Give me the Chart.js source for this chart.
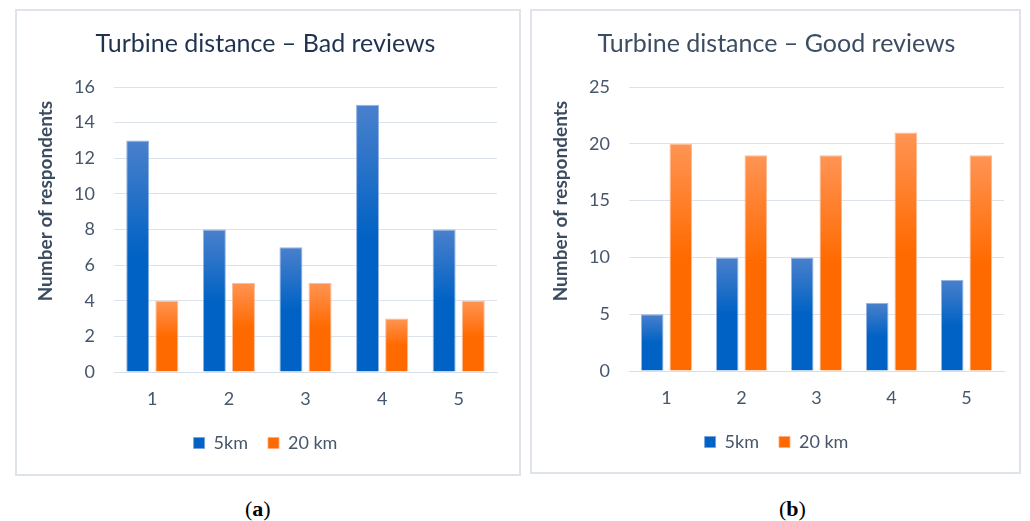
<!DOCTYPE html>
<html>
<head>
<meta charset="utf-8">
<script src="https://cdn.jsdelivr.net/npm/chart.js@4.4.1/dist/chart.umd.min.js"></script>
<style>
  body { margin: 0; background: #fff; width: 1030px; height: 521px; position: relative; overflow: hidden; }
  .panel { position: absolute; border: 2px solid #dfe4ea; box-sizing: border-box; }
  .panel canvas { position: absolute; left: 0; top: 0; }
  .cap { position: absolute; font-family: "Liberation Serif", serif; font-size: 22px; color: #000; }
</style>
</head>
<body>
<div class="panel" style="left:15px;top:9px;width:506px;height:467px;"><canvas id="badChart" width="502" height="463"></canvas></div>
<div class="panel" style="left:530px;top:9px;width:491px;height:465px;"><canvas id="goodChart" width="487" height="461"></canvas></div>
<div class="cap" style="left:245px;top:496px;">(<b>a</b>)</div>
<div class="cap" style="left:779px;top:496px;">(<b>b</b>)</div>
<script>
var categories = ['1', '2', '3', '4', '5'];
var seriesNames = ['5km', '20 km'];
var bad5km = [13, 8, 7, 15, 8];
var bad20km = [4, 5, 5, 3, 4];
var good5km = [5, 10, 10, 6, 8];
var good20km = [20, 19, 19, 21, 19];

var fontName = 'Lato';
var tickColor = '#46566b';

// per-bar vertical gradient, light at the top
function barFill(top, bottom) {
    return function (ctx) {
        var chart = ctx.chart;
        var y = chart.scales && chart.scales.y;
        if (!y || ctx.raw === undefined) return bottom;
        var y0 = y.getPixelForValue(ctx.raw);
        var y1 = y.getPixelForValue(0);
        if (!isFinite(y0) || !isFinite(y1) || y0 === y1) return bottom;
        var g = chart.ctx.createLinearGradient(0, y0, 0, y1);
        g.addColorStop(0, top);
        g.addColorStop(0.5, bottom);
        g.addColorStop(1, bottom);
        return g;
    };
}

function drawchart(id, title, titleColor, d1, d2, max, step, padRight, padBottom) {
    var ctx = document.getElementById(id).getContext('2d');
    return new Chart(ctx, {
        type: 'bar',
        data: {
            labels: categories,
            datasets: [{
                label: seriesNames[0],
                data: d1,
                backgroundColor: barFill('#4a80cc', '#0062c4'),
                borderColor: 'rgba(120,160,220,0.8)',
                borderWidth: 1,
                barPercentage: 0.79,
                categoryPercentage: 0.76
            }, {
                label: seriesNames[1],
                data: d2,
                backgroundColor: barFill('#ff9454', '#ff6a00'),
                borderColor: 'rgba(255,170,120,0.8)',
                borderWidth: 1,
                barPercentage: 0.79,
                categoryPercentage: 0.76
            }]
        },
        options: {
            responsive: false,
            animation: false,
            layout: { padding: { left: 17, right: padRight, top: 0, bottom: padBottom } },
            plugins: {
                tooltip: { enabled: false },
                title: {
                    display: true,
                    text: title,
                    color: titleColor,
                    font: { family: fontName, size: 25, weight: 'normal' },
                    padding: { top: 18, bottom: 28 }
                },
                legend: {
                    position: 'bottom',
                    labels: {
                        color: tickColor,
                        font: { family: fontName, size: 18 },
                        boxWidth: 11,
                        boxHeight: 11,
                        padding: 20
                    }
                }
            },
            scales: {
                x: {
                    grid: { display: false, drawTicks: false },
                    border: { color: '#d9dfe8', width: 1 },
                    ticks: { color: tickColor, font: { family: fontName, size: 18 }, padding: 16 },
                    afterFit: function (s) { s.height = 42; }
                },
                y: {
                    min: 0,
                    max: max,
                    grid: { color: '#dde3ea', lineWidth: 1, drawTicks: false },
                    border: { display: false },
                    ticks: { stepSize: step, color: tickColor, font: { family: fontName, size: 18 }, padding: 19 },
                    title: {
                        display: true,
                        // sits high on the axis in the original
                        text: 'Number of respondents   ',
                        align: 'end',
                        color: '#3b4b60',
                        font: { family: fontName, size: 19, weight: 'bold' },
                        padding: 0
                    },
                    afterFit: function (s) { s.width = 80; }
                }
            }
        }
    });
}

drawchart('badChart', 'Turbine distance \u2013 Bad reviews', '#1f3350', bad5km, bad20km, 16, 2, 22, 12);
drawchart('goodChart', 'Turbine distance \u2013 Good reviews', '#3b4d63', good5km, good20km, 25, 5, 15, 11);
</script>
</body>
</html>
